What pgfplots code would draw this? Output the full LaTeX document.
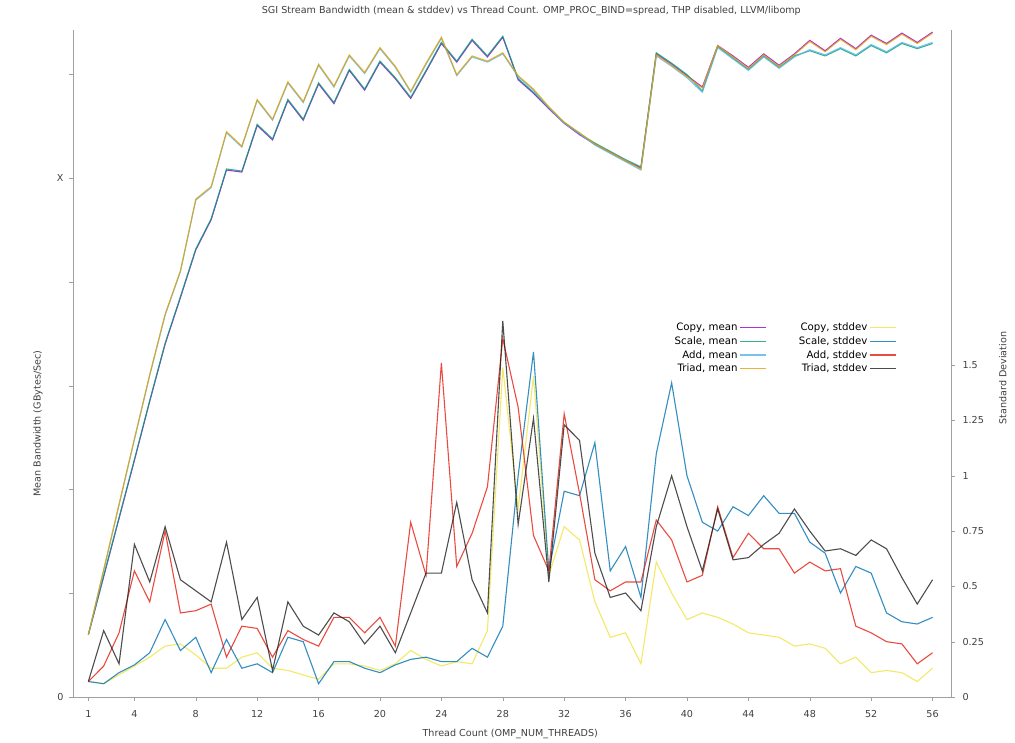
\documentclass[border=0pt]{standalone}
\usepackage{fontspec}
\setmainfont{DejaVu Sans}
\usepackage{pgfplots}
\pgfplotsset{compat=1.18}
\usepackage{pgfplotstable}

% gnuplot default palette
\definecolor{gpurple}{HTML}{9400D3}
\definecolor{ggreen}{HTML}{009E73}
\definecolor{glblue}{HTML}{56B4E9}
\definecolor{gorange}{HTML}{E69F00}
\definecolor{gyellow}{HTML}{F0E442}
\definecolor{gblue}{HTML}{0072B2}
\definecolor{gred}{HTML}{E51E10}
\definecolor{gblack}{HTML}{202020}
\definecolor{axisgray}{HTML}{A0A0A0}
\definecolor{txtgray}{HTML}{404040}

% mean bandwidth (left axis)
\pgfplotstableread{
x copy scale add triad
1 0.60 0.60 0.60 0.60
2 1.16 1.17 1.22 1.23
3 1.72 1.73 1.85 1.86
4 2.28 2.29 2.48 2.49
5 2.85 2.86 3.10 3.11
6 3.40 3.41 3.68 3.69
7 3.85 3.86 4.10 4.11
8 4.31 4.32 4.79 4.80
9 4.60 4.61 4.91 4.92
10 5.08 5.09 5.44 5.45
11 5.06 5.07 5.30 5.31
12 5.51 5.52 5.75 5.76
13 5.37 5.38 5.56 5.57
14 5.75 5.76 5.92 5.93
15 5.56 5.57 5.73 5.74
16 5.91 5.92 6.09 6.10
17 5.72 5.73 5.88 5.89
18 6.04 6.05 6.18 6.19
19 5.85 5.86 6.01 6.02
20 6.12 6.13 6.25 6.26
21 5.96 5.97 6.07 6.08
22 5.77 5.78 5.83 5.84
23 6.03 6.04 6.10 6.11
24 6.30 6.31 6.35 6.36
25 6.12 6.13 5.99 6.00
26 6.33 6.34 6.17 6.18
27 6.17 6.18 6.12 6.13
28 6.36 6.37 6.20 6.21
29 5.95 5.96 5.98 5.99
30 5.82 5.83 5.85 5.86
31 5.67 5.68 5.68 5.69
32 5.53 5.54 5.53 5.54
33 5.42 5.43 5.43 5.44
34 5.33 5.34 5.32 5.33
35 5.25 5.26 5.24 5.25
36 5.17 5.18 5.16 5.17
37 5.10 5.11 5.08 5.09
38 6.20 6.21 6.18 6.19
39 6.10 6.11 6.08 6.09
40 5.99 6.00 5.97 5.98
41 5.88 5.84 5.83 5.87
42 6.28 6.27 6.26 6.28
43 6.18 6.16 6.15 6.17
44 6.07 6.05 6.04 6.06
45 6.20 6.18 6.17 6.19
46 6.09 6.07 6.06 6.08
47 6.20 6.18 6.17 6.19
48 6.33 6.23 6.24 6.32
49 6.23 6.18 6.19 6.22
50 6.35 6.25 6.26 6.34
51 6.25 6.18 6.19 6.24
52 6.38 6.28 6.29 6.37
53 6.30 6.21 6.22 6.29
54 6.40 6.30 6.31 6.39
55 6.31 6.25 6.26 6.30
56 6.41 6.30 6.31 6.40
}\meantable

% standard deviation (right axis)
\pgfplotstableread{
x copy scale add triad
1 0.07 0.07 0.07 0.07
2 0.06 0.06 0.14 0.30
3 0.10 0.11 0.29 0.15
4 0.14 0.145 0.57 0.69
5 0.18 0.20 0.43 0.52
6 0.23 0.35 0.75 0.77
7 0.24 0.21 0.38 0.53
8 0.19 0.27 0.39 0.48
9 0.13 0.11 0.42 0.43
10 0.13 0.26 0.18 0.70
11 0.18 0.13 0.32 0.35
12 0.20 0.15 0.31 0.45
13 0.13 0.11 0.18 0.12
14 0.12 0.27 0.30 0.43
15 0.10 0.25 0.26 0.32
16 0.08 0.06 0.23 0.28
17 0.15 0.16 0.36 0.38
18 0.15 0.16 0.36 0.34
19 0.14 0.13 0.29 0.24
20 0.12 0.11 0.36 0.32
21 0.15 0.145 0.23 0.20
22 0.21 0.17 0.79 0.38
23 0.17 0.18 0.55 0.56
24 0.14 0.16 1.51 0.56
25 0.16 0.16 0.59 0.88
26 0.15 0.22 0.74 0.53
27 0.30 0.18 0.95 0.38
28 1.49 0.32 1.62 1.70
29 0.85 1.00 1.31 0.78
30 1.45 1.56 0.73 1.26
31 0.55 0.57 0.57 0.52
32 0.77 0.93 1.28 1.23
33 0.71 0.91 0.92 1.16
34 0.43 1.15 0.53 0.65
35 0.27 0.57 0.48 0.45
36 0.29 0.68 0.52 0.47
37 0.15 0.45 0.52 0.39
38 0.61 1.10 0.80 0.77
39 0.47 1.42 0.71 1.00
40 0.35 1.00 0.52 0.77
41 0.38 0.79 0.55 0.57
42 0.36 0.75 0.86 0.85
43 0.33 0.86 0.63 0.62
44 0.29 0.82 0.74 0.63
45 0.28 0.91 0.67 0.69
46 0.27 0.83 0.67 0.74
47 0.23 0.83 0.56 0.85
48 0.24 0.70 0.61 0.75
49 0.22 0.65 0.57 0.66
50 0.15 0.47 0.58 0.67
51 0.18 0.59 0.32 0.64
52 0.11 0.56 0.29 0.71
53 0.12 0.38 0.25 0.67
54 0.11 0.34 0.24 0.54
55 0.07 0.33 0.15 0.42
56 0.13 0.36 0.20 0.53
}\sdtable

\pgfplotsset{
  common/.style={
    scale only axis, width=878pt, height=667pt,
    at={(73pt,46pt)}, anchor=south west,
    xmin=0, xmax=57.2,
    axis line style={axisgray},
    tick align=outside, major tick length=4pt,
    tick style={axisgray},
    /pgf/number format/assume math mode=true,
    ticklabel style={font=\fontsize{9.6}{11}\selectfont, text=txtgray},
    label style={font=\fontsize{9.6}{11}\selectfont, text=txtgray},
    every axis plot/.append style={line width=1.1pt, opacity=0.8},
  },
}

\begin{document}
\begin{tikzpicture}
\path[use as bounding box] (0,0) rectangle (1015pt,743pt);

\begin{axis}[common,
    axis x line*=bottom, axis y line*=left,
    ymin=0, ymax=6.43,
    ytick={0,1,2,3,4,5,6}, yticklabels={0,,,,,X,},
    yticklabel style={xshift=-2pt},
    xtick={1,4,8,12,16,20,24,28,32,36,40,44,48,52,56},
    xticklabel style={yshift=-6pt},
    xlabel={Thread Count (OMP\_NUM\_THREADS)},
    xlabel style={at={(axis description cs:0.498,-0.055)}, anchor=center},
    ylabel={Mean Bandwidth (GBytes/Sec)},
    ylabel style={at={(axis description cs:-0.04,0.41)}, anchor=center, rotate=0},
    title={SGI Stream Bandwidth (mean \& stddev) vs Thread Count. OMP\_PROC\_BIND=spread, THP disabled, LLVM/libomp},
    title style={at={(axis description cs:0.522,1.019)}, anchor=center,
      font=\fontsize{9.6}{11}\selectfont, text=txtgray},
]
\addplot[gpurple] table[x=x, y=copy] {\meantable};
\addplot[ggreen] table[x=x, y=scale] {\meantable};
\addplot[glblue] table[x=x, y=add] {\meantable};
\addplot[gorange] table[x=x, y=triad] {\meantable};
\end{axis}

\begin{axis}[common,
    axis x line=none, axis y line*=right,
    ymin=0, ymax=3.015,
    ytick={0,0.25,0.5,0.75,1,1.25,1.5},
    yticklabel style={xshift=4pt},
    ylabel={Standard Deviation},
    ylabel style={at={(axis description cs:1.059,0.478)}, anchor=center, rotate=0},
    legend columns=2,
    legend cell align=right,
    legend plot pos=right,
    legend image code/.code={\draw[line width=1.4pt, #1] (0pt,0pt) -- (26pt,0pt);},
    legend style={at={(axis description cs:0.942,0.567)}, anchor=north east,
      draw=none, fill=white, font=\fontsize{10.2}{12}\selectfont,
      row sep=0.4pt,
      /tikz/every even column/.append style={column sep=30pt}},
]
\addlegendimage{draw=gpurple}\addlegendentry{Copy, mean}
\addlegendimage{draw=gyellow}\addlegendentry{Copy, stddev}
\addlegendimage{draw=ggreen}\addlegendentry{Scale, mean}
\addlegendimage{draw=gblue}\addlegendentry{Scale, stddev}
\addlegendimage{draw=glblue}\addlegendentry{Add, mean}
\addlegendimage{draw=gred}\addlegendentry{Add, stddev}
\addlegendimage{draw=gorange}\addlegendentry{Triad, mean}
\addlegendimage{draw=gblack}\addlegendentry{Triad, stddev}

\addplot[gyellow, forget plot] table[x=x, y=copy] {\sdtable};
\addplot[gblue, forget plot] table[x=x, y=scale] {\sdtable};
\addplot[gred, forget plot] table[x=x, y=add] {\sdtable};
\addplot[gblack, forget plot] table[x=x, y=triad] {\sdtable};
\end{axis}
\end{tikzpicture}
\end{document}
